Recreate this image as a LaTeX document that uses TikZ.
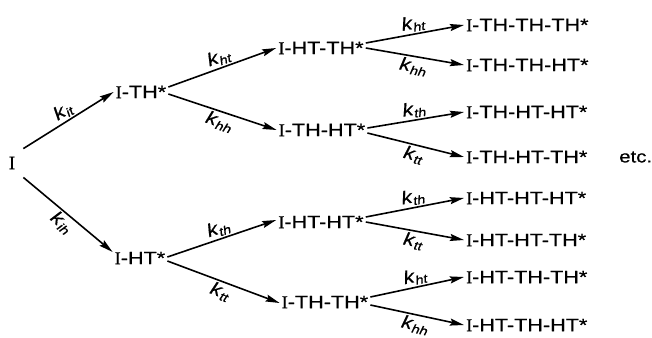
\documentclass[tikz,border=0pt]{standalone}
\usepackage{fontspec}
\setmainfont[FakeBold=0.8]{Liberation Serif}
\setsansfont[FakeStretch=1.2,FakeBold=0.6]{Liberation Sans}
\usetikzlibrary{arrows.meta}
\newcommand{\kl}[1]{{\itshape k}\kern0.5pt{\fontsize{12}{12}\selectfont\itshape\raisebox{-0.45ex}{#1}}}
\newcommand{\Ii}{{\rmfamily I}}
\begin{document}
\begin{tikzpicture}[x=1pt,y=-1pt,
  st/.style={font=\sffamily\fontsize{18}{18}\selectfont, inner sep=2pt},
  arr/.style={line width=1.6pt, -{Stealth[length=14pt,width=7pt,inset=2pt]}},
  lab/.style={font=\sffamily\fontsize{18}{18}\selectfont, sloped, inner sep=1.5pt}]
\useasboundingbox (0,0) rectangle (652,337);
% level 0
\node[st, font=\sffamily\fontsize{19}{19}\selectfont] (I) at (12,163) {\Ii};
% level 1
\node[st] (ITH) at (141,92) {\Ii-TH*};
\node[st] (IHT) at (140,258) {\Ii-HT*};
% level 2
\node[st] (IHTTH) at (321,48) {\Ii-HT-TH*};
\node[st] (ITHHT) at (322,130) {\Ii-TH-HT*};
\node[st] (IHTHT) at (321,222) {\Ii-HT-HT*};
\node[st] (ITHTH) at (325,302) {\Ii-TH-TH*};
% level 3
\node[st, anchor=west] (a1) at (464,25) {\Ii-TH-TH-TH*};
\node[st, anchor=west] (a2) at (464,65) {\Ii-TH-TH-HT*};
\node[st, anchor=west] (a3) at (464,112) {\Ii-TH-HT-HT*};
\node[st, anchor=west] (a4) at (464,157) {\Ii-TH-HT-TH*};
\node[st, anchor=west] (a5) at (464,198) {\Ii-HT-HT-HT*};
\node[st, anchor=west] (a6) at (464,240) {\Ii-HT-HT-TH*};
\node[st, anchor=west] (a7) at (464,277) {\Ii-HT-TH-TH*};
\node[st, anchor=west] (a8) at (464,325) {\Ii-HT-TH-HT*};
\node[st, anchor=west, inner sep=0pt, font=\sffamily\fontsize{17}{17}\selectfont] (etc) at (619,157) {etc.};
% connectors level 0 -> 1
\draw[arr] ([xshift=6pt,yshift=6pt]I.north east) -- (ITH.west) node[lab, midway, above] {\kl{it}};
\draw[arr] ([xshift=6pt,yshift=-6pt]I.south east) -- ([yshift=6pt]IHT.west) node[lab, midway, below] {\kl{ih}};
% level 1 -> 2
\draw[arr] ([yshift=5pt]ITH.east) -- (IHTTH.west) node[lab, midway, above] {\kl{ht}};
\draw[arr] ([yshift=-2pt]ITH.east) -- (ITHHT.west) node[lab, midway, below] {\kl{hh}};
\draw[arr] ([yshift=1pt]IHT.east) -- ([yshift=2pt]IHTHT.west) node[lab, midway, above] {\kl{th}};
\draw[arr] ([yshift=-3pt]IHT.east) -- ([yshift=-1pt]ITHTH.west) node[lab, midway, below] {\kl{tt}};
% level 2 -> 3
\draw[arr] ([yshift=5pt]IHTTH.east) -- (a1.west) node[lab, midway, above] {\kl{ht}};
\draw[arr] ([yshift=0pt]IHTTH.east) -- (a2.west) node[lab, midway, below] {\kl{hh}};
\draw[arr] ([yshift=2pt]ITHHT.east) -- (a3.west) node[lab, midway, above] {\kl{th}};
\draw[arr] ([yshift=-3pt]ITHHT.east) -- (a4.west) node[lab, midway, below] {\kl{tt}};
\draw[arr] ([yshift=5pt]IHTHT.east) -- (a5.west) node[lab, midway, above] {\kl{th}};
\draw[arr] ([yshift=0pt]IHTHT.east) -- (a6.west) node[lab, midway, below] {\kl{tt}};
\draw[arr] ([yshift=5pt]ITHTH.east) -- (a7.west) node[lab, midway, above] {\kl{ht}};
\draw[arr] ([yshift=-3pt]ITHTH.east) -- (a8.west) node[lab, midway, below] {\kl{hh}};
\end{tikzpicture}
\end{document}
